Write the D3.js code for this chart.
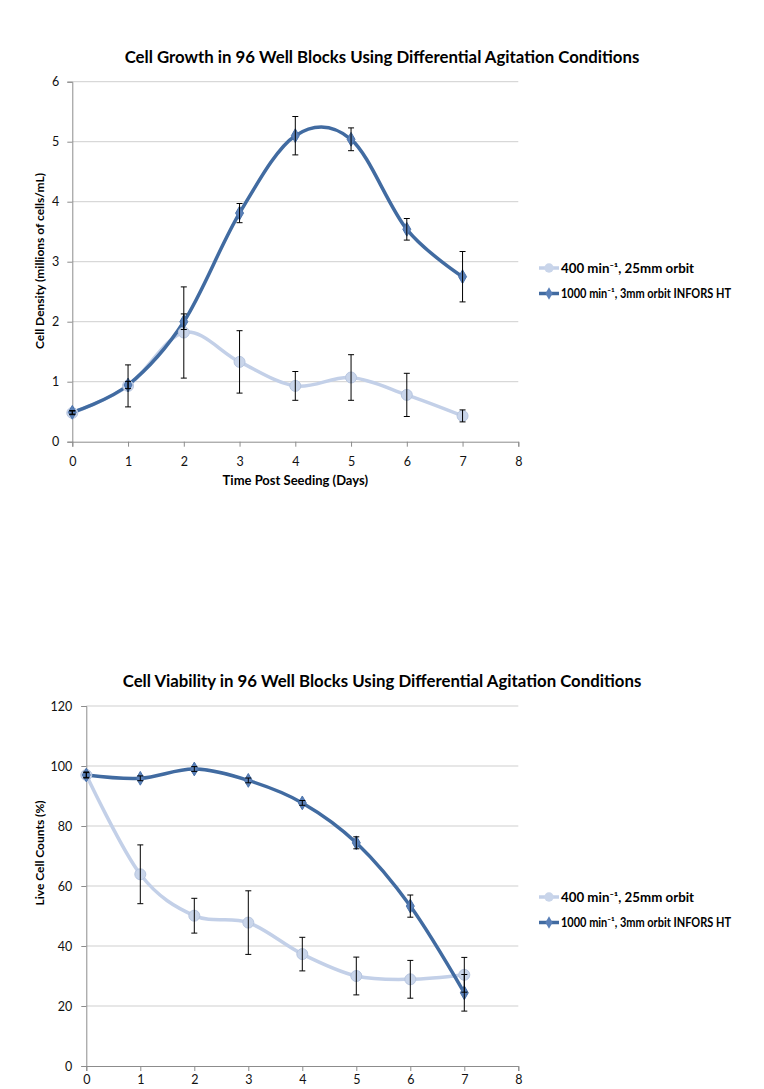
<!DOCTYPE html>
<html><head><meta charset="utf-8">
<script src="https://cdn.jsdelivr.net/npm/d3@7"></script>
<style>body{margin:0;background:#fff;} svg{display:block;font-family:Lato,"Open Sans",sans-serif;}</style>
</head><body>
<svg id="c" width="764" height="1089"></svg>
<script>
const days = [0,1,2,3,4,5,6,7];
const seriesNames = ["400 min\u207B\u00B9, 25mm orbit", "1000 min\u207B\u00B9, 3mm orbit INFORS HT"];
// Chart 1: cell density
const density400 = [0.48,0.93,1.82,1.33,0.93,1.07,0.78,0.43];
const density400Err = [0.03,0.35,0.76,0.52,0.24,0.38,0.36,0.10];
const density1000 = [0.49,0.945,2.0,3.81,5.1,5.04,3.54,2.75];
const density1000Err = [0.03,0.06,0.13,0.16,0.32,0.19,0.18,0.42];
// Chart 2: viability
const viab400 = [97,63.9,50.1,47.8,37.3,30.0,28.9,30.4];
const viab400Err = [1,9.8,5.8,10.6,5.6,6.3,6.3,5.8];
const viab1000 = [97,95.9,99,95.2,87.7,74.4,53.3,24.4];
const viab1000Err = [0.8,0.8,0.8,0.8,0.8,2.0,3.7,6.1];
const xTicks = [0,1,2,3,4,5,6,7,8];
const yTicks1 = [0,1,2,3,4,5,6];
const yTicks2 = [0,20,40,60,80,100,120];

const C_LIGHT = "#c3d0e8", C_DARK = "#416ba1";
const svg = d3.select("#c");

function chart(cfg){
  const g = svg.append("g");
  const x = d3.scaleLinear().domain([0,8]).range([cfg.x0, cfg.x1]);
  const y = d3.scaleLinear().domain([0,cfg.ymax]).range([cfg.y0, cfg.y1]);
  // gridlines
  g.selectAll(".grid").data(cfg.yTicks.slice(1)).enter().append("line")
    .attr("x1",cfg.x0).attr("x2",cfg.x1).attr("y1",d=>y(d)).attr("y2",d=>y(d))
    .attr("stroke","#cfcfcf").attr("stroke-width",1);
  // axes
  const ax = g.append("g").attr("transform",`translate(0,${cfg.y0})`)
    .call(d3.axisBottom(x).tickValues(xTicks).tickSize(5).tickPadding(cfg.xPad).tickFormat(d3.format("d")));
  const ay = g.append("g").attr("transform",`translate(${cfg.x0},0)`)
    .call(d3.axisLeft(y).tickValues(cfg.yTicks).tickSize(5).tickPadding(cfg.yPad).tickFormat(d3.format("d")));
  [ax,ay].forEach(a=>{
    a.select(".domain").attr("stroke","#8c8c8c");
    a.selectAll(".tick line").attr("stroke","#8c8c8c");
    a.selectAll("text").attr("font-size",12.5).attr("fill","#111").attr("font-family","Lato, sans-serif");
  });
  // title
  g.append("text").attr("x",cfg.titleX).attr("y",cfg.titleY).attr("text-anchor","middle")
    .attr("font-weight","bold").attr("font-size",16.8).text(cfg.title);
  if(cfg.xLabel) g.append("text").attr("x",(cfg.x0+cfg.x1)/2).attr("y",cfg.y0+43).attr("text-anchor","middle")
    .attr("font-weight","bold").attr("font-size",13).text(cfg.xLabel);
  g.append("text").attr("transform",`translate(${cfg.yLabelX},${cfg.yLabelY}) rotate(-90)`)
    .attr("text-anchor","middle").attr("font-weight","bold").attr("font-size",12).text(cfg.yLabel);

  const line = d3.line().x((d,i)=>x(days[i])).y(d=>y(d)).curve(d3.curveCardinal.tension(0));
  const series = [
    {v:cfg.s1, e:cfg.e1, c:C_LIGHT, m:"circle"},
    {v:cfg.s2, e:cfg.e2, c:C_DARK, m:"diamond"}
  ];
  series.forEach(s=>{
    g.append("path").datum(s.v).attr("d",line).attr("fill","none").attr("stroke",s.c).attr("stroke-width",3.5);
  });
  series.forEach(s=>{
    const mk = s.m==="circle" ? d3.symbol(d3.symbolCircle,95) : d3.symbol(d3.symbolDiamond,55);
    g.selectAll(null).data(s.v).enter().append("path")
      .attr("d",mk).attr("transform",(d,i)=>`translate(${x(days[i])},${y(d)})`)
      .attr("fill",s.m==="circle"?"#c9d5ea":"#5a80b8").attr("stroke",s.m==="circle"?"#b7c6e0":"#4a72aa").attr("stroke-width",1);
  });
  series.forEach(s=>{
    const eb = g.append("g");
    s.v.forEach((d,i)=>{
      const px = x(days[i]), t = y(d+s.e[i]), b = y(d-s.e[i]);
      eb.append("line").attr("x1",px).attr("x2",px).attr("y1",t).attr("y2",b).attr("stroke","#000").attr("stroke-width",1);
      [t,b].forEach(yy=>eb.append("line").attr("x1",px-3).attr("x2",px+3).attr("y1",yy).attr("y2",yy).attr("stroke","#000").attr("stroke-width",1));
    });
  });
  // legend
  const legW = [133,170];
  series.forEach((s,i)=>{
    const ly = cfg.legY + i*25.5;
    const lg = g.append("g");
    lg.append("line").attr("x1",cfg.legX).attr("x2",cfg.legX+20).attr("y1",ly).attr("y2",ly).attr("stroke",s.c).attr("stroke-width",3.5);
    const mk = s.m==="circle" ? d3.symbol(d3.symbolCircle,70) : d3.symbol(d3.symbolDiamond,45);
    lg.append("path").attr("d",mk).attr("transform",`translate(${cfg.legX+10},${ly})`)
      .attr("fill",s.m==="circle"?"#c9d5ea":"#5a80b8");
    lg.append("text").attr("x",cfg.legX+22).attr("y",ly+4.5).attr("font-weight","bold").attr("font-size",12.3)
      .attr("textLength",legW[i]).attr("lengthAdjust","spacingAndGlyphs").text(seriesNames[i]);
  });
}

chart({x0:72.3,x1:518.3,y0:441.7,y1:81.7,ymax:6,yTicks:yTicks1,xPad:10,yPad:8,
  title:"Cell Growth in 96 Well Blocks Using Differential Agitation Conditions",titleX:382,titleY:63,
  xLabel:"Time Post Seeding (Days)",yLabel:"Cell Density (millions of cells/mL)",yLabelX:44,yLabelY:261,
  s1:density400,e1:density400Err,s2:density1000,e2:density1000Err,legX:539,legY:268});
chart({x0:86.3,x1:518.3,y0:1066,y1:706,ymax:120,yTicks:yTicks2,xPad:4,yPad:9,
  title:"Cell Viability in 96 Well Blocks Using Differential Agitation Conditions",titleX:382,titleY:687,
  xLabel:null,yLabel:"Live Cell Counts (%)",yLabelX:44,yLabelY:853,
  s1:viab400,e1:viab400Err,s2:viab1000,e2:viab1000Err,legX:539,legY:897});
</script>
</body></html>
